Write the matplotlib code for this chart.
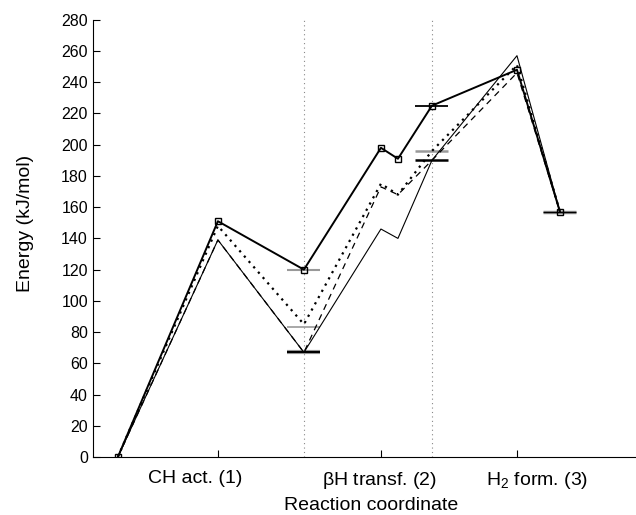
import matplotlib
matplotlib.use("Agg")
import matplotlib.pyplot as plt

plt.rcParams['font.family'] = ['Liberation Sans', 'DejaVu Sans']
plt.rcParams['mathtext.fontset'] = 'custom'
plt.rcParams['mathtext.rm'] = 'Liberation Sans'
plt.rcParams['mathtext.it'] = 'Liberation Sans'

# reaction coordinate of each state
xpos = [0, 1.0, 1.86, 2.63, 2.80, 3.14, 3.99, 4.42]

# energies (kJ/mol) for the four profiles
e_main = [0, 151, 120, 198, 191, 225, 248, 157]
e_thin = [0, 139, 67, 146, 140, 190, 257, 157]
e_dot = [0, 148, 85, 175, 168, 196, 251, 157]
e_dash = [0, 139, 67, 173, 168, 190, 246, 157]

# horizontal level bars
bar_x = [1.86, 1.86, 1.86, 1.86, 3.14, 3.14, 3.14, 4.42, 4.42]
bar_e = [120, 83, 67, 67, 225, 196, 190, 157, 157]
bar_c = ['#999999', '#999999', '#999999', 'black', 'black', '#999999', 'black', '#999999', 'black']
bar_lw = [1.5, 1.2, 3.0, 1.5, 1.3, 1.8, 1.8, 2.5, 1.0]

tick_x = [1.0, 2.63, 3.99]
labels = ['CH act. (1)', r'$\beta$H transf. (2)', r'H$_2$ form. (3)']
label_x = [0.77, 2.62, 4.19]
divider_x = [1.86, 3.14]

fig = plt.figure(figsize=(6.36, 5.15), dpi=100)
ax = fig.add_axes([0.146, 0.1126, 0.854, 0.849])

for xv in divider_x:
    ax.plot([xv, xv], [0, 280], color='#888888', lw=0.8, ls=(0, (1, 3)))

for xb, eb, cb, lwb in zip(bar_x, bar_e, bar_c, bar_lw):
    ax.plot([xb - 0.165, xb + 0.165], [eb, eb], color=cb, lw=lwb, solid_capstyle='butt')

ax.plot(xpos, e_thin, color='black', lw=0.8)
ax.plot(xpos, e_dash, color='black', lw=0.9, ls=(0, (5, 4)))
ax.plot(xpos, e_dot, color='black', lw=1.6, ls=(0, (1, 2.2)))
ax.plot(xpos, e_main, color='black', lw=1.4, marker='s', markersize=5,
        markerfacecolor='none', markeredgecolor='black', markeredgewidth=1.0)

ax.set_xlim(-0.25, 5.18)
ax.set_ylim(0, 280)
ax.set_yticks(range(0, 281, 20))
ax.set_xticks(tick_x)
ax.set_xticklabels([])
ax.tick_params(direction='in', length=5, labelsize=11.5, width=0.8)
ax.spines['top'].set_visible(False)
ax.spines['right'].set_visible(False)

for lx, lab in zip(label_x, labels):
    ax.text(lx, -8, lab, ha='center', va='top', fontsize=14)

fig.text(371 / 636, 1 - 506 / 515, 'Reaction coordinate', ha='center', va='center', fontsize=14)
fig.text(25 / 636, 1 - 223 / 515, 'Energy (kJ/mol)', ha='center', va='center',
         rotation=90, fontsize=14)

fig.savefig('out.png', dpi=100)
